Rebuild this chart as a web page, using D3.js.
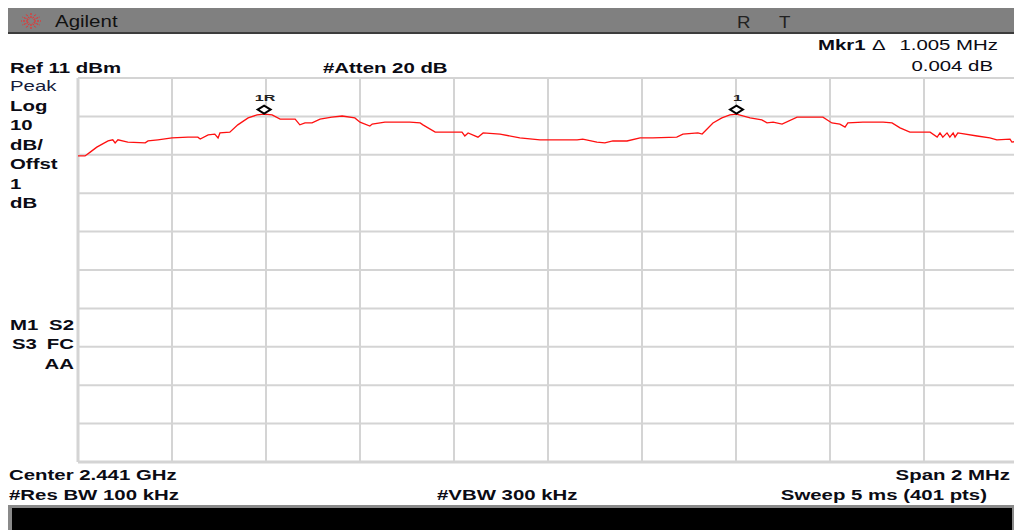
<!DOCTYPE html>
<html>
<head>
<meta charset="utf-8">
<script src="https://cdn.jsdelivr.net/npm/d3@7"></script>
<style>
html,body{margin:0;padding:0;background:#fff;}
svg{display:block;}
text{font-family:"Liberation Sans",Arial,sans-serif;}
</style>
</head>
<body>
<div id="chart"></div>
<script>
// Trace data: frequency (MHz) and level (dBm)
const freqMHz = [2440.000,2440.015,2440.026,2440.040,2440.064,2440.074,2440.079,2440.085,2440.106,2440.143,2440.149,2440.170,2440.200,2440.234,2440.255,2440.260,2440.277,2440.291,2440.298,2440.302,2440.323,2440.340,2440.362,2440.381,2440.396,2440.413,2440.430,2440.462,2440.472,2440.483,2440.498,2440.515,2440.540,2440.562,2440.589,2440.600,2440.621,2440.626,2440.653,2440.685,2440.706,2440.728,2440.734,2440.760,2440.798,2440.817,2440.823,2440.830,2440.851,2440.862,2440.898,2440.940,2440.983,2441.062,2441.074,2441.104,2441.121,2441.138,2441.168,2441.196,2441.223,2441.274,2441.287,2441.319,2441.328,2441.351,2441.370,2441.387,2441.401,2441.430,2441.455,2441.466,2441.479,2441.498,2441.530,2441.585,2441.604,2441.621,2441.632,2441.638,2441.670,2441.713,2441.732,2441.749,2441.770,2441.798,2441.813,2441.828,2441.834,2441.840,2441.849,2441.855,2441.862,2441.866,2441.872,2441.913,2441.940,2441.955,2441.983,2441.987,2442.000];
const levelDbm = [-9.3,-9.3,-8.3,-7.0,-5.4,-5.1,-5.9,-5.1,-5.7,-5.9,-5.4,-5.1,-4.6,-4.4,-4.4,-4.9,-3.8,-3.6,-4.6,-3.3,-3.1,-1.2,0.6,1.4,1.6,1.4,0.3,0.3,-1.2,-0.7,-0.7,0.3,0.8,1.1,0.6,-0.5,-1.5,-1.0,-0.5,-0.5,-0.5,-0.7,-1.2,-3.1,-3.1,-3.1,-4.1,-3.3,-4.4,-3.3,-3.6,-4.6,-5.1,-5.1,-4.9,-5.7,-5.9,-5.4,-5.4,-4.6,-4.6,-4.4,-3.6,-3.3,-3.6,-0.7,0.6,1.4,1.6,0.6,0.1,-0.7,-0.5,-1.0,0.8,0.8,-0.7,-1.0,-1.8,-0.7,-0.5,-0.5,-0.7,-2.0,-3.1,-3.1,-3.1,-4.4,-3.3,-4.4,-3.3,-4.4,-3.3,-4.4,-3.3,-4.1,-4.6,-5.1,-4.9,-5.7,-5.4];
// Markers
const markerFreq = [2440.396, 2441.401];
const markerLabel = ["1R", "1"];
// Axis settings
const xTicks = [2440.0,2440.2,2440.4,2440.6,2440.8,2441.0,2441.2,2441.4,2441.6,2441.8,2442.0];
const yTicks = [11,1,-9,-19,-29,-39,-49,-59,-69,-79,-89];
// Annotation texts
const leftLabels = ["Peak","Log","10","dB/","Offst","1","dB"];

const W = 1014, H = 530;
const svg = d3.select("#chart").append("svg").attr("width", W).attr("height", H);
svg.append("rect").attr("width", W).attr("height", H).attr("fill", "#fff");

const x = d3.scaleLinear().domain([2440, 2442]).range([78, 1018]);
const y = d3.scaleLinear().domain([11, -89]).range([78, 462]);

const SX = 1.36;
function txt(str, px, py, opt) {
  opt = opt || {};
  const t = svg.append("text")
    .attr("transform", `translate(${px},${py}) scale(${opt.sx || SX},1)`)
    .attr("font-size", opt.size || 15)
    .attr("font-weight", opt.weight || "bold")
    .attr("fill", opt.fill || "#0b0b14")
    .attr("text-anchor", opt.anchor || "start")
    .text(str);
  return t;
}

// Header bar
svg.append("rect").attr("x", 8).attr("y", 8).attr("width", W - 8).attr("height", 25).attr("fill", "#808080");
svg.append("rect").attr("x", 8).attr("y", 32).attr("width", W - 8).attr("height", 2).attr("fill", "#3c3c3c");
// logo starburst
const logo = svg.append("g").attr("transform", "translate(31,21)");
d3.range(12).forEach(i => {
  const a = i * Math.PI / 6;
  logo.append("line")
    .attr("x1", Math.cos(a) * 3).attr("y1", Math.sin(a) * 3)
    .attr("x2", Math.cos(a) * 10).attr("y2", Math.sin(a) * 8)
    .attr("stroke", "#ff2020").attr("stroke-width", 1).attr("stroke-dasharray", "2,1");
});
txt("Agilent", 55, 27, {weight: "normal", size: 16, sx: 1.28, fill: "#111"});
txt("R", 737, 28, {weight: "normal", size: 17, sx: 1.1, fill: "#222"});
txt("T", 779, 28, {weight: "normal", size: 17, sx: 1.1, fill: "#222"});

// Top annotation
txt("Ref 11 dBm", 10, 73);
txt("#Atten 20 dB", 323, 73);
txt("Mkr1", 818, 50);
txt("\u0394", 872, 50, {weight: "normal"});
txt("1.005 MHz", 998, 50, {weight: "normal", anchor: "end"});
txt("0.004 dB", 993, 71, {weight: "normal", anchor: "end"});

// Left labels
leftLabels.forEach((s, i) => {
  txt(s, 10, 91 + i * 19.5, {weight: s === "Peak" ? "normal" : "bold", fill: s === "Peak" ? "#141a3a" : "#0b0b14"});
});
txt("M1", 10, 330);
txt("S2", 74, 330, {anchor: "end"});
txt("S3", 12, 349);
txt("FC", 74, 349, {anchor: "end"});
txt("AA", 74, 369, {anchor: "end"});

// Grid
const grid = svg.append("g");
grid.selectAll("line.v").data(xTicks).join("line")
  .attr("x1", d => x(d)).attr("x2", d => x(d))
  .attr("y1", y(11)).attr("y2", y(-89))
  .attr("stroke", "#d4d4d4").attr("stroke-width", (d, i) => i === 0 ? 3 : 2);
grid.selectAll("line.h").data(yTicks).join("line")
  .attr("x1", x(2440)).attr("x2", x(2442))
  .attr("y1", d => y(d)).attr("y2", d => y(d))
  .attr("stroke", "#d4d4d4").attr("stroke-width", (d, i) => i === yTicks.length - 1 ? 3 : 2);

// Trace
const pts = freqMHz.map((f, i) => [f, levelDbm[i]]);
const line = d3.line().x(d => x(d[0])).y(d => y(d[1]));
svg.append("path").datum(pts).attr("d", line)
  .attr("fill", "none").attr("stroke", "#ff1010").attr("stroke-width", 1.3);

// Markers
const interp = f => {
  const i = d3.bisectLeft(freqMHz, f);
  if (i <= 0) return levelDbm[0];
  const f0 = freqMHz[i - 1], f1 = freqMHz[i];
  const t = (f - f0) / (f1 - f0);
  return levelDbm[i - 1] + t * (levelDbm[i] - levelDbm[i - 1]);
};
markerFreq.forEach((f, i) => {
  const mx = x(f), my = y(interp(f)) - 4.5;
  svg.append("path")
    .attr("d", `M${mx - 6.5},${my} L${mx},${my - 4} L${mx + 6.5},${my} L${mx},${my + 4} Z`)
    .attr("fill", "#fff").attr("stroke", "#000").attr("stroke-width", 2);
  svg.append("text")
    .attr("transform", `translate(${mx + 1},${my - 9}) scale(1.9,1)`)
    .attr("font-family", "DejaVu Sans Mono, monospace")
    .attr("font-size", 8.5).attr("font-weight", "bold")
    .attr("text-anchor", "middle").attr("fill", "#222")
    .text(markerLabel[i]);
});

// Bottom annotation
txt("Center 2.441 GHz", 9, 480);
txt("#Res BW 100 kHz", 9, 500);
txt("#VBW 300 kHz", 437, 500);
txt("Span 2 MHz", 1010, 480, {anchor: "end"});
txt("Sweep 5 ms (401 pts)", 987, 500, {anchor: "end"});

// Bottom bar
svg.append("rect").attr("x", 8).attr("y", 505).attr("width", W - 8).attr("height", 25).attr("fill", "#8a8a8a");
svg.append("rect").attr("x", 12).attr("y", 508).attr("width", 1000).attr("height", 22).attr("fill", "#000");
</script>
</body>
</html>
